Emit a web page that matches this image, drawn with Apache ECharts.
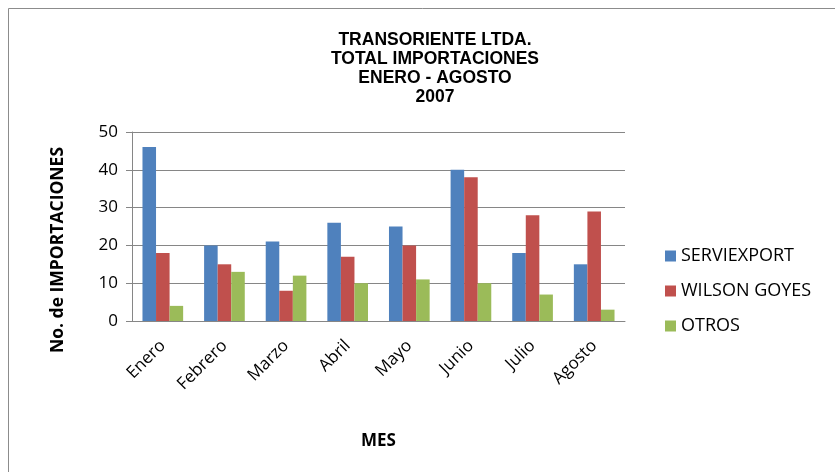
<!DOCTYPE html>
<html>
<head>
<meta charset="utf-8">
<script src="https://cdn.jsdelivr.net/npm/echarts@6/dist/echarts.min.js"></script>
<style>
html,body{margin:0;padding:0;background:#fff;}
#main{width:835px;height:472px;}
</style>
</head>
<body>
<div id="main"></div>
<script>
var meses = ['Enero', 'Febrero', 'Marzo', 'Abril', 'Mayo', 'Junio', 'Julio', 'Agosto'];
var serviexport = [46, 20, 21, 26, 25, 40, 18, 15];
var wilsonGoyes = [18, 15, 8, 17, 20, 38, 28, 29];
var otros = [4, 13, 12, 10, 11, 10, 7, 3];

var myChart = echarts.init(document.getElementById('main'));

function barra(nombre, datos, color) {
    return {
        name: nombre,
        type: 'bar',
        data: datos,
        barGap: '0%',
        barCategoryGap: '34%',
        itemStyle: { color: color }
    };
}

var option = {
    backgroundColor: '#fff',
    animation: false,
    graphic: [{
        type: 'rect',
        shape: { x: 8.5, y: 8.5, width: 840, height: 480 },
        style: { fill: 'none', stroke: '#8c8c8c', lineWidth: 1 }
    }, {
        // titulo del eje Y, centrado como en Excel
        type: 'text',
        x: 58,
        y: 250,
        rotation: Math.PI / 2,
        style: {
            text: 'No. de IMPORTACIONES',
            fontFamily: 'Open Sans',
            fontSize: 17.5,
            fontWeight: 'bold',
            fill: '#000',
            align: 'center',
            verticalAlign: 'middle'
        }
    }],
    title: {
        text: 'TRANSORIENTE LTDA.\nTOTAL IMPORTACIONES\nENERO - AGOSTO\n2007',
        left: 430,
        top: 26,
        textAlign: 'center',
        textStyle: {
            fontFamily: 'Liberation Sans',
            fontSize: 17.5,
            fontWeight: 'bold',
            color: '#000',
            lineHeight: 19
        }
    },
    legend: {
        orient: 'vertical',
        left: 660,
        top: 242,
        itemWidth: 11,
        itemHeight: 11,
        itemGap: 17,
        icon: 'rect',
        data: ['SERVIEXPORT', 'WILSON GOYES', 'OTROS'],
        textStyle: { fontFamily: 'Open Sans', fontSize: 18, color: '#000' }
    },
    grid: {
        left: 132,
        top: 132,
        width: 493,
        height: 189,
        containLabel: false
    },
    xAxis: {
        type: 'category',
        data: meses,
        name: 'MES',
        nameLocation: 'middle',
        nameGap: 112,
        nameTextStyle: { fontFamily: 'Open Sans', fontSize: 17, fontWeight: 'bold', color: '#000' },
        axisLine: { lineStyle: { color: '#868686' } },
        axisTick: { show: false },
        axisLabel: {
            rotate: 45,
            interval: 0,
            margin: 22,
            fontFamily: 'Open Sans',
            fontSize: 17,
            color: '#000'
        }
    },
    yAxis: {
        type: 'value',
        min: 0,
        max: 50,
        interval: 10,
        axisLine: { show: true, lineStyle: { color: '#868686' } },
        axisTick: { show: true, length: 6, lineStyle: { color: '#868686' } },
        axisLabel: { fontFamily: 'Open Sans', fontSize: 17, color: '#000', margin: 14 },
        splitLine: { lineStyle: { color: '#868686', width: 1 } }
    },
    series: [
        barra('SERVIEXPORT', serviexport, '#4f81bd'),
        barra('WILSON GOYES', wilsonGoyes, '#c0504d'),
        barra('OTROS', otros, '#9bbb59')
    ]
};

myChart.setOption(option);
</script>
</body>
</html>
